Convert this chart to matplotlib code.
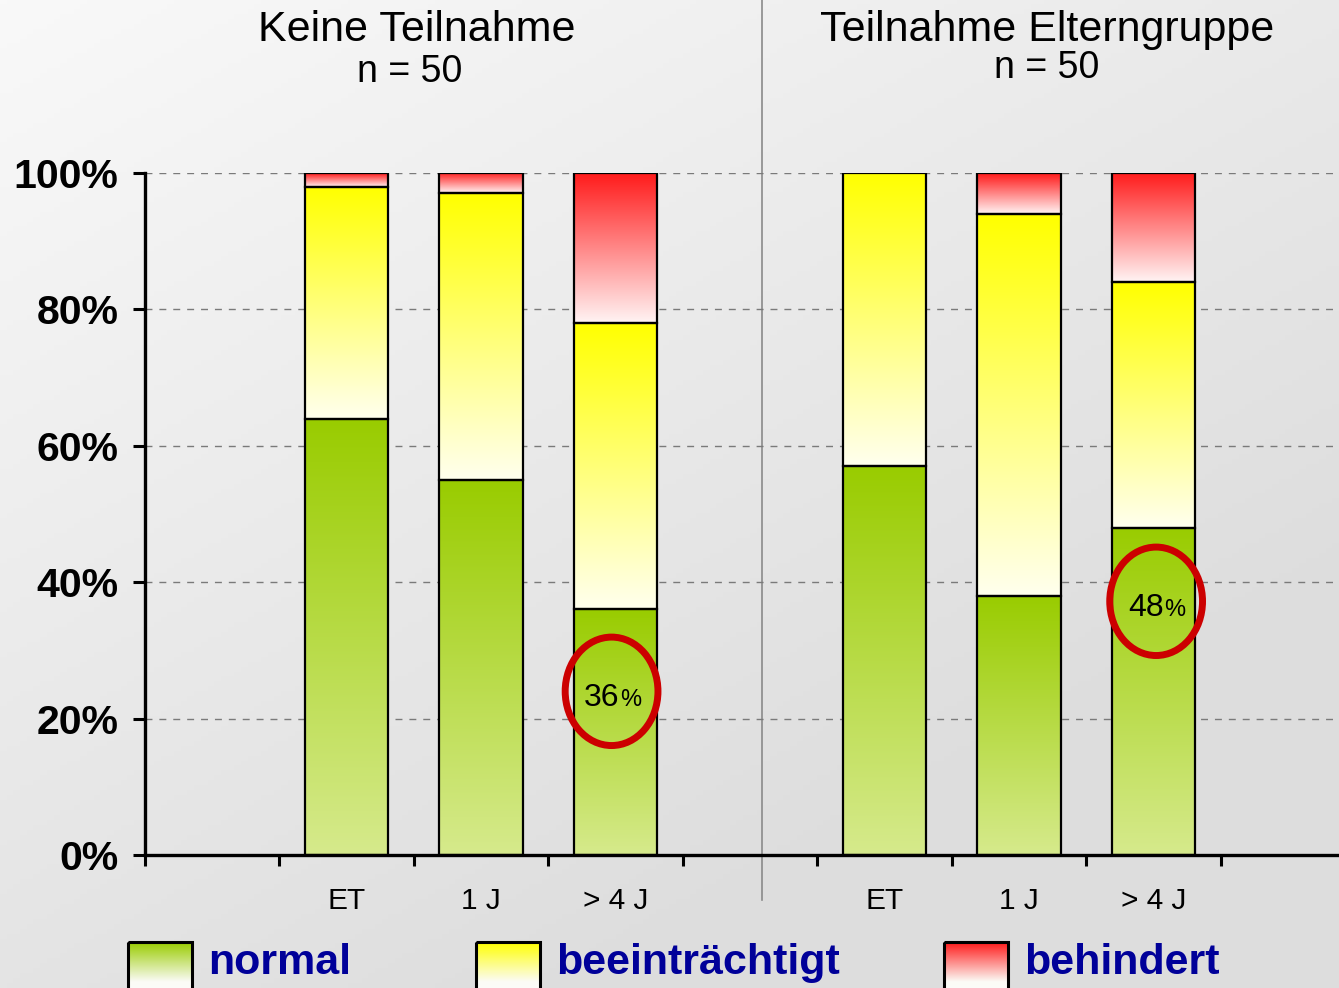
import numpy as np
import matplotlib
matplotlib.use('Agg')
import matplotlib.pyplot as plt
from matplotlib.colors import LinearSegmentedColormap
from matplotlib.patches import Rectangle, Ellipse

plt.rcParams['font.family'] = ['Liberation Sans', 'DejaVu Sans']

# Daten (Anteile in %)
gruppen = ['Keine Teilnahme', 'Teilnahme Elterngruppe']
n_gruppe = [50, 50]
zeitpunkte = ['ET', '1 J', '> 4 J']
normal = [64, 55, 36, 57, 38, 48]
beeintraechtigt = [34, 42, 42, 43, 56, 36]
behindert = [2, 3, 22, 0, 6, 16]
kategorien = ['normal', 'beeinträchtigt', 'behindert']
markiert_index = [2, 5]
markiert_text = ['36', '48']

# Farben: (unten, oben)
farben = {
    'normal': ('#d6ea8c', '#99cc00'),
    'beeinträchtigt': ('#ffffee', '#ffff00'),
    'behindert': ('#fff4f4', '#ff1a1a'),
}

W, H = 1339, 988
fig = plt.figure(figsize=(W / 100, H / 100), dpi=100)

# Hintergrund mit Verlauf, in Pixelkoordinaten
bg = fig.add_axes([0, 0, 1, 1], zorder=0)
bg.axis('off')
xx, yy = np.meshgrid(np.linspace(0, 1, 200), np.linspace(0, 1, 200))
t = np.clip(0.55 * xx + 0.75 * yy, 0, 1)
grau = (249 - 28 * t) / 255
bg.imshow(np.dstack([grau, grau, grau]), extent=[0, W, H, 0], aspect='auto', zorder=0)

# Trennlinie zwischen den Gruppen
bg.plot([762, 762], [0, 900], color='#8a8a8a', lw=1.2, zorder=1)

# Titel
titel_x = [417, 1047]
n_pos = [(410, 72), (1047, 68)]
for i, g in enumerate(gruppen):
    bg.text(titel_x[i], 30, g, ha='center', va='center', fontsize=31, zorder=2)
    bg.text(n_pos[i][0], n_pos[i][1], f'n = {n_gruppe[i]}',
            ha='center', va='center', fontsize=27, zorder=2)

# Legende
grad = np.linspace(0, 1, 256).reshape(-1, 1)
leg_x = [128, 476, 944]
for k, x0 in zip(kategorien, leg_x):
    cmap = LinearSegmentedColormap.from_list(
        k, [(0, '#ffffff'), (0.4, '#fbfbf6'), (1, farben[k][1])])
    bg.imshow(grad, cmap=cmap, extent=[x0, x0 + 64, 1008, 942], origin='lower',
              aspect='auto', zorder=2)
    bg.add_patch(Rectangle((x0, 942), 64, 66, fill=False, ec='black', lw=2.2, zorder=3))
    bg.text(x0 + 80, 963, k, ha='left', va='center', fontsize=31, fontweight='bold',
            color='#000099', zorder=3)
bg.set_xlim(0, W)
bg.set_ylim(H, 0)

# Hauptdiagramm
ax = fig.add_axes([145 / W, (H - 855) / H, 1 - 145 / W, (855 - 173) / H], zorder=1)
ax.patch.set_alpha(0)

positionen = [1, 2, 3, 5, 6, 7]
breite = 0.62
for i, x in enumerate(positionen):
    unten = 0
    for k, werte in zip(kategorien, [normal, beeintraechtigt, behindert]):
        h = werte[i]
        if h > 0:
            cmap = LinearSegmentedColormap.from_list(k, farben[k])
            ax.imshow(grad, cmap=cmap, origin='lower', aspect='auto',
                      extent=[x - breite / 2, x + breite / 2, unten, unten + h], zorder=2)
            ax.add_patch(Rectangle((x - breite / 2, unten), breite, h, fill=False,
                                   ec='black', lw=1.6, zorder=3))
        unten += h

# Markierungen (Kreis um den Anteil "normal")
kreis_dx = [-0.03, 0.02]
kreis_y = [24.0, 37.2]
for i, label, dx, y in zip(markiert_index, markiert_text, kreis_dx, kreis_y):
    x = positionen[i] + dx
    ax.add_patch(Ellipse((x, y), 0.69, 15.9, fill=False, ec='#cc0000', lw=5, zorder=4))
    ax.text(x + 0.06, y - 1, label, ha='right', va='center', fontsize=23, zorder=5)
    ax.text(x + 0.06, y - 1.3, '%', ha='left', va='center', fontsize=17, zorder=5)

ax.set_xlim(-0.5, 8.38)
ax.set_ylim(0, 100)

ax.set_yticks(range(0, 101, 20))
ax.set_yticklabels([f'{v}%' for v in range(0, 101, 20)], fontsize=29.5, fontweight='bold')
ax.tick_params(axis='y', length=9, width=2.2, pad=10)

ax.set_xticks(positionen)
ax.set_xticklabels(zeitpunkte * 2, fontsize=21.5)
ax.set_xticks(np.arange(-0.5, 8.5, 1.0), minor=True)
ax.tick_params(axis='x', which='major', length=0, pad=23)
ax.tick_params(axis='x', which='minor', length=8, width=2.2, direction='out')

for s in ['top', 'right']:
    ax.spines[s].set_visible(False)
for s in ['left', 'bottom']:
    ax.spines[s].set_linewidth(2.4)

ax.yaxis.grid(True, linestyle=(0, (5, 5)), color='#7a7a7a', lw=1)
ax.set_axisbelow(True)

fig.savefig('out.png', dpi=100)
